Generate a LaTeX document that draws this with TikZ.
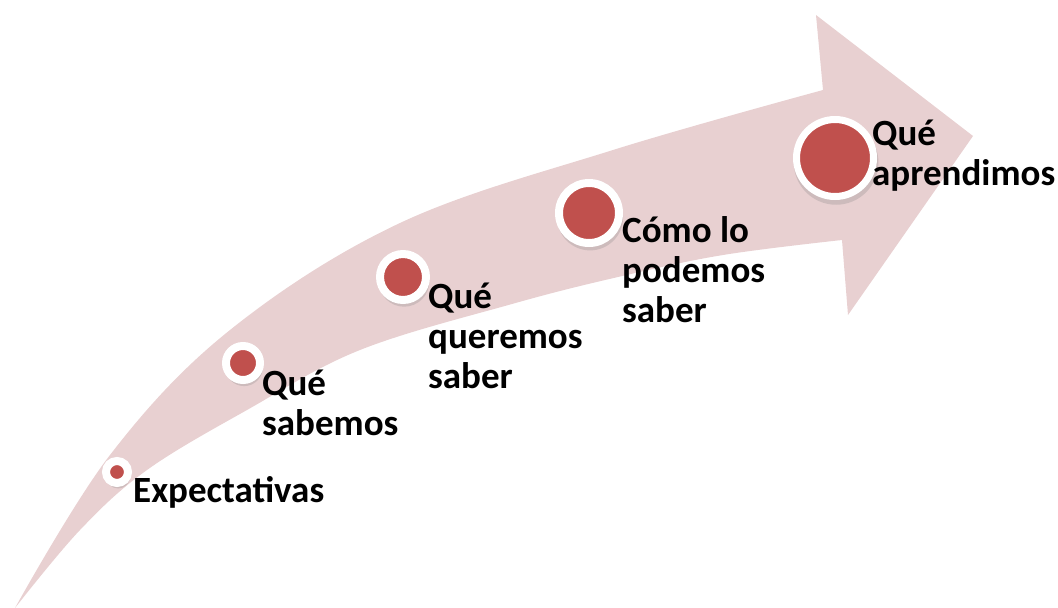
\documentclass[tikz,border=0pt]{standalone}
\usepackage{fontspec}
\setmainfont{Carlito}
\usetikzlibrary{shadows}
\definecolor{ArrowPink}{HTML}{E8D0D1}
\definecolor{DotRed}{HTML}{C0504D}

\begin{document}
\begin{tikzpicture}[
    x=1pt, y=-1pt,
    dot/.style={circle, fill=DotRed, draw=white, line width=8pt, inner sep=0pt, minimum size=#1,
                drop shadow={shadow xshift=1pt, shadow yshift=-4pt, opacity=0.25, shadow scale=1.1}},
    steplabel/.style={font=\bfseries\fontsize{37}{40}\selectfont, text=black, align=left, anchor=base west, inner sep=0pt}
]
  \useasboundingbox (0,0) rectangle (1058,608);

  % -------------------------------------------------------------
  % FLECHA CURVA
  % -------------------------------------------------------------
  \fill[ArrowPink]
    plot[smooth, tension=0.6] coordinates {(15,608) (110,455) (230,330) (400,223) (613,150) (823,90)}
    -- (816,15) -- (973,136) -- (848,315) -- (842,240)
    -- plot[smooth, tension=0.6] coordinates {(842,240) (723,255) (618,277) (512,304) (360,350) (247,410) (147,470) (80,530) (15,608)}
    -- cycle;

  % -------------------------------------------------------------
  % ETAPAS (la base del nodo es la de la última línea)
  % -------------------------------------------------------------
  \node[dot=22pt] (p_exp) at (117,472) {};
  \node[steplabel] (t_exp) at (133,502) {Expectativas};

  \node[dot=34pt] (p_sab) at (243,363) {};
  \node[steplabel] (t_sab) at (262,435) {Qué\\sabemos};

  \node[dot=46pt] (p_que) at (403,277) {};
  \node[steplabel] (t_que) at (428,388) {Qué\\queremos\\saber};

  \node[dot=60pt] (p_com) at (589,213) {};
  \node[steplabel] (t_com) at (622,322) {Cómo lo\\podemos\\saber};

  \node[dot=77pt, line width=7pt] (p_apr) at (835,158) {};
  \node[steplabel] (t_apr) at (872,185) {Qué\\aprendimos};

\end{tikzpicture}
\end{document}
